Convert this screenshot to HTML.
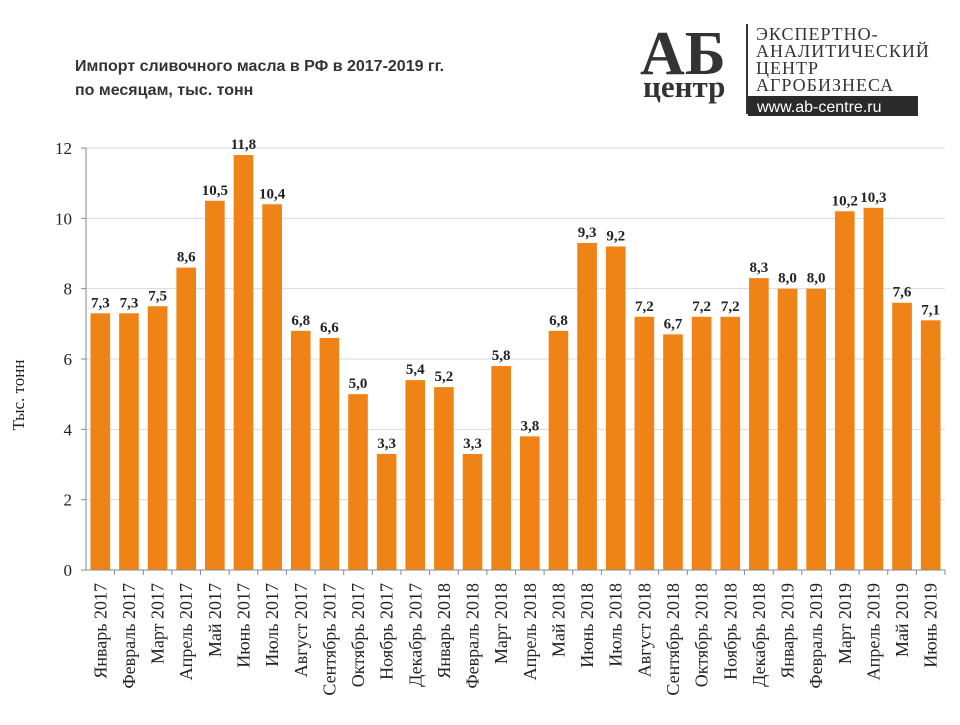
<!DOCTYPE html>
<html><head><meta charset="utf-8"><style>
body{margin:0;background:#fff;width:960px;height:720px;overflow:hidden;font-family:"Liberation Sans",sans-serif}
</style></head><body>
<svg width="960" height="720" xmlns="http://www.w3.org/2000/svg">
<text x="75" y="71" font-family="Liberation Sans" font-weight="bold" font-size="16" fill="#333">Импорт сливочного масла в РФ в 2017-2019 гг.</text>
<text x="75" y="95" font-family="Liberation Sans" font-weight="bold" font-size="16" fill="#333">по месяцам, тыс. тонн</text>
<g>
<text x="640" y="74" font-family="Liberation Serif" font-weight="bold" font-size="62" fill="#333">АБ</text>
<text x="643" y="97" font-family="Liberation Serif" font-weight="bold" font-size="31" fill="#333">центр</text>
<rect x="746" y="24" width="2" height="90" fill="#333"/>
<g font-family="Liberation Serif" font-size="18" fill="#333" letter-spacing="1">
<text x="756" y="40">ЭКСПЕРТНО-</text><text x="756" y="57">АНАЛИТИЧЕСКИЙ</text>
<text x="756" y="74">ЦЕНТР</text><text x="756" y="91">АГРОБИЗНЕСА</text></g>
<rect x="748" y="96" width="170" height="20" fill="#2a2a2a"/>
<text x="757" y="112" font-family="Liberation Sans" font-size="16" fill="#fff">www.ab-centre.ru</text>
</g>
<g id="grid"></g><g id="bars"></g><g id="axes"></g>
<text transform="translate(24,395) rotate(-90)" text-anchor="middle" font-family="Liberation Serif" font-size="17" fill="#222">Тыс. тонн</text>
</svg>
<script>
const categories=["Январь 2017","Февраль 2017","Март 2017","Апрель 2017","Май 2017","Июнь 2017","Июль 2017","Август 2017","Сентябрь 2017","Октябрь 2017","Ноябрь 2017","Декабрь 2017","Январь 2018","Февраль 2018","Март 2018","Апрель 2018","Май 2018","Июнь 2018","Июль 2018","Август 2018","Сентябрь 2018","Октябрь 2018","Ноябрь 2018","Декабрь 2018","Январь 2019","Февраль 2019","Март 2019","Апрель 2019","Май 2019","Июнь 2019"];
const values=[7.3,7.3,7.5,8.6,10.5,11.8,10.4,6.8,6.6,5.0,3.3,5.4,5.2,3.3,5.8,3.8,6.8,9.3,9.2,7.2,6.7,7.2,7.2,8.3,8.0,8.0,10.2,10.3,7.6,7.1];
const yTicks=[0,2,4,6,8,10,12];
const NS="http://www.w3.org/2000/svg";
const X0=86,X1=945,Y0=570,Y1=148,YMAX=12;
const bw=(X1-X0)/categories.length;
const y=v=>Y0-(v/YMAX)*(Y0-Y1);
const x=i=>X0+bw*i;
function mk(t,a,p){const e=document.createElementNS(NS,t);for(const k in a)e.setAttribute(k,a[k]);p.appendChild(e);return e;}
const G=document.getElementById('grid'),B=document.getElementById('bars'),A=document.getElementById('axes');
yTicks.forEach(t=>{
 if(t>0){const l=mk('line',{x1:X0,x2:X1,y1:y(t),y2:y(t),stroke:'#d9d9d9','stroke-width':1},G);
 
 }
 mk('line',{x1:X0-5,x2:X0,y1:y(t),y2:y(t),stroke:'#888'},A);
 const tx=mk('text',{x:X0-14,y:y(t)+6,'text-anchor':'end','font-family':'Liberation Serif','font-size':17,fill:'#222'},A);
 tx.textContent=t;
 
 
});
values.forEach((v,i)=>{
 const r=mk('rect',{x:x(i)+4.5,y:y(v),width:bw-9,height:Y0-y(v),fill:'#ef8316'},B);
 
 
 const t=mk('text',{x:x(i)+bw/2,y:y(v)-6,'text-anchor':'middle','font-family':'Liberation Serif','font-weight':'bold','font-size':15,fill:'#222'},B);
 t.textContent=v.toFixed(1).replace('.',',');
 
 
 const c=mk('text',{transform:`translate(${x(i)+bw/2+6},583) rotate(-90)`,'text-anchor':'end','font-family':'Liberation Serif','font-size':18,fill:'#222'},A);
 c.textContent=categories[i];
 
 
 mk('line',{x1:x(i+1),x2:x(i+1),y1:Y0,y2:Y0+5,stroke:'#888'},A);
});
mk('line',{x1:X0,x2:X0,y1:Y1,y2:Y0,stroke:'#888'},A);
mk('line',{x1:X0-5,x2:X1,y1:Y0,y2:Y0,stroke:'#888'},A);
</script>
</body></html>
